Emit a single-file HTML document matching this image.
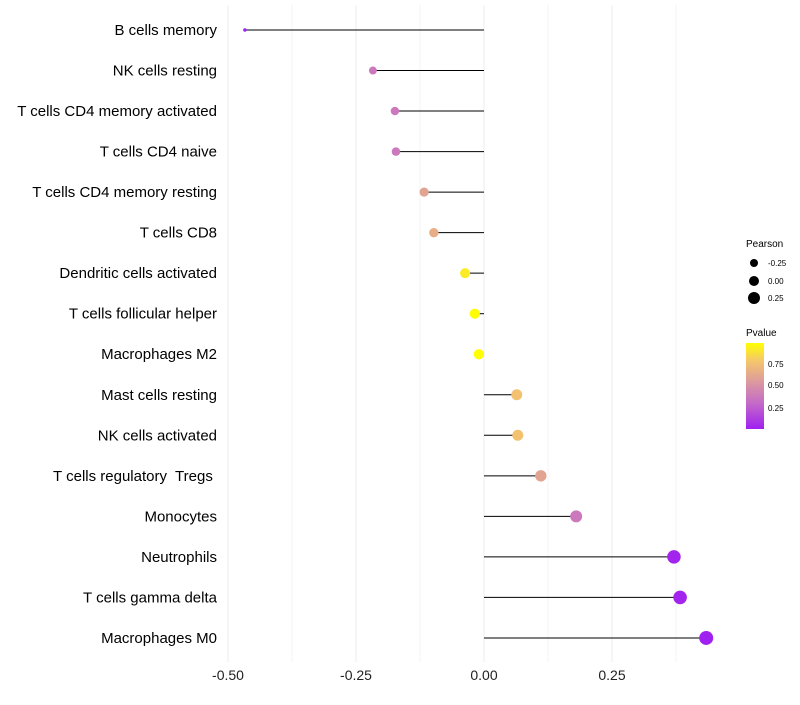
<!DOCTYPE html>
<html><head><meta charset="utf-8"><style>
body{margin:0;background:#fff;font-family:"Liberation Sans",sans-serif}
text{white-space:pre}
</style></head><body>
<svg id="chart" width="800" height="700" xmlns="http://www.w3.org/2000/svg">
<g id="grid"></g><g id="marks"></g><g id="labels"></g>
<g id="legend">
<text x="746" y="247" font-size="10">Pearson</text>
<circle cx="754" cy="263" r="4"/><text x="768" y="266" font-size="8">-0.25</text>
<circle cx="754" cy="281" r="5"/><text x="768" y="284" font-size="8">0.00</text>
<circle cx="754" cy="298" r="6"/><text x="768" y="301" font-size="8">0.25</text>
<text x="746" y="336" font-size="10">Pvalue</text>
<defs><linearGradient id="pg" x1="0" y1="1" x2="0" y2="0">
<stop offset="0" stop-color="#a020f0"/><stop offset="0.3" stop-color="#c46ac8"/><stop offset="0.55" stop-color="#dc9a9e"/><stop offset="0.8" stop-color="#f5c86a"/><stop offset="1" stop-color="#ffff00"/></linearGradient></defs>
<rect x="746" y="343" width="18" height="86" fill="url(#pg)"/>
<text x="768" y="367" font-size="8">0.75</text><text x="768" y="388" font-size="8">0.50</text><text x="768" y="411" font-size="8">0.25</text>
</g>
</svg>
<script>
const cells=["B cells memory","NK cells resting","T cells CD4 memory activated","T cells CD4 naive","T cells CD4 memory resting","T cells CD8","Dendritic cells activated","T cells follicular helper","Macrophages M2","Mast cells resting","NK cells activated","T cells regulatory  Tregs ","Monocytes","Neutrophils","T cells gamma delta","Macrophages M0"];
const pearson=[-0.467,-0.217,-0.174,-0.172,-0.117,-0.098,-0.037,-0.018,-0.01,0.064,0.066,0.111,0.180,0.371,0.383,0.434];
const pvalue=[0.03,0.38,0.38,0.38,0.6,0.65,0.9,0.96,0.98,0.75,0.75,0.6,0.38,0.05,0.05,0.03];
const xTicks=[-0.5,-0.25,0,0.25];
const xTickLabels=["-0.50","-0.25","0.00","0.25"];
const NS="http://www.w3.org/2000/svg";
const X=v=>484+v*512;
const Y=i=>30+i*40.53;
const R=v=>Math.sqrt(3+(v+0.467)*51);
const stops=[[0,[160,32,240]],[0.3,[196,106,200]],[0.55,[220,154,158]],[0.8,[245,200,106]],[1,[255,255,0]]];
function col(p){p=(p-0.03)/0.94;p=Math.max(0,Math.min(1,p));for(let k=1;k<stops.length;k++){if(p<=stops[k][0]){const a=stops[k-1],b=stops[k],t=(p-a[0])/(b[0]-a[0]);return "rgb("+a[1].map((c,j)=>Math.round(c+(b[1][j]-c)*t)).join(",")+")";}}return "rgb(255,255,0)";}
function mk(t,a,parent){const e=document.createElementNS(NS,t);for(const k in a)e.setAttribute(k,a[k]);document.getElementById(parent).appendChild(e);return e;}
for(let g=-0.5;g<=0.38;g+=0.125){
const l=mk("line",{x1:X(g),x2:X(g),y1:5,y2:662,stroke:"#ececec","stroke-width":Math.abs(g*4-Math.round(g*4))<1e-6?1:0.6},"grid");

}
xTicks.forEach((t,i)=>{const e=mk("text",{x:X(t),y:680,"font-size":14,"text-anchor":"middle",fill:"#222"},"labels");e.textContent=xTickLabels[i];

});
cells.forEach((c,i)=>{
const y=Y(i);
const t=mk("text",{x:217,y:y+5,"font-size":15,"text-anchor":"end",fill:"#000"},"labels");t.textContent=c;


const l=mk("line",{x1:X(0),x2:X(pearson[i]),y1:y,y2:y,stroke:"#000","stroke-width":1},"marks");


const p=mk("circle",{cx:X(pearson[i]),cy:y,r:R(pearson[i]),fill:col(pvalue[i])},"marks");


});
</script>
</body></html>
